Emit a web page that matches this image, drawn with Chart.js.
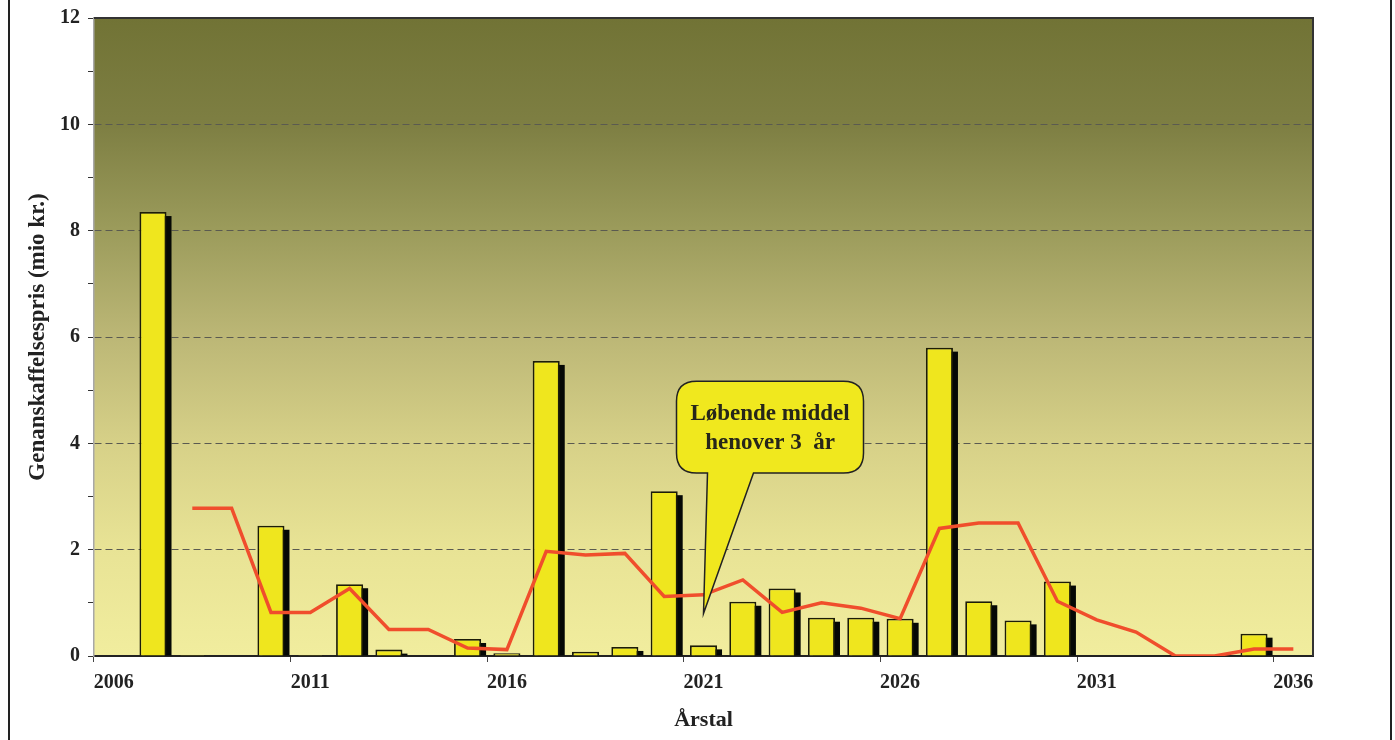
<!DOCTYPE html>
<html>
<head>
<meta charset="utf-8">
<script src="https://cdn.jsdelivr.net/npm/chart.js@4/dist/chart.umd.min.js"></script>
<style>
  html, body { margin: 0; padding: 0; background: #fff; }
  #wrap { position: relative; width: 1395px; height: 740px; }
  #frame { position: absolute; left: 8px; top: 0; width: 1384px; height: 740px;
           border-left: 2px solid #222; border-right: 2px solid #222; box-sizing: border-box; pointer-events: none; }
</style>
</head>
<body>
<div id="wrap">
  <canvas id="c" width="1395" height="740"></canvas>
  <div id="frame"></div>
</div>
<script>
// years 2006..2036
const years = [];
for (let y = 2006; y <= 2036; y++) years.push(String(y));

const costs = [null, 8.35, 0.02, 0.01, 2.45, 0.02, 1.35, 0.12, 0.01, 0.32, 0.05,
  5.55, 0.08, 0.17, 3.1, 0.2, 1.02, 1.27, 0.72, 0.72, 0.7,
  5.8, 1.03, 0.67, 1.4, 0, 0, 0, 0, 0.42, null];

const runningAvg = [null, null, 2.78, 2.78, 0.82, 0.82, 1.27, 0.5, 0.5, 0.15, 0.12,
  1.97, 1.9, 1.93, 1.12, 1.15, 1.43, 0.82, 1.0, 0.9, 0.7,
  2.4, 2.5, 2.5, 1.03, 0.68, 0.45, 0, 0, 0.13, 0.13];

const yTicks = [0, 2, 4, 6, 8, 10, 12];
const calloutLines = ['Løbende middel', 'henover 3  år'];

const FONT = '"Liberation Serif", "Times New Roman", serif';

const bgPlugin = {
  id: 'bg',
  beforeDraw(chart) {
    const { ctx, chartArea: a } = chart;
    const g = ctx.createLinearGradient(0, a.top, 0, a.bottom);
    g.addColorStop(0, '#717335');
    g.addColorStop(0.17, '#7e7f43');
    g.addColorStop(0.33, '#9b9b5b');
    g.addColorStop(0.5, '#bcb776');
    g.addColorStop(0.67, '#d7d188');
    g.addColorStop(0.83, '#e8e395');
    g.addColorStop(1, '#f1ed9e');
    ctx.save();
    ctx.fillStyle = g;
    ctx.fillRect(a.left, a.top, a.right - a.left, a.bottom - a.top);
    ctx.restore();
  },
  beforeDatasetsDraw(chart) {
    // drop shadow behind each bar
    const { ctx } = chart;
    const meta = chart.getDatasetMeta(1);
    ctx.save();
    ctx.fillStyle = '#050805';
    meta.data.forEach(bar => {
      if (bar.skip || isNaN(bar.y)) return;
      const w = bar.width;
      const top = Math.min(bar.y, bar.base) + 4;
      const h = Math.abs(bar.base - bar.y) - 4;
      if (h > 0) ctx.fillRect(bar.x - w / 2 + 5, top, w, h);
    });
    ctx.restore();
  },
  afterDraw(chart) {
    const { ctx, chartArea: a, scales } = chart;
    ctx.save();
    ctx.strokeStyle = '#333';
    ctx.lineWidth = 2;
    ctx.beginPath();
    ctx.moveTo(a.left, a.top);
    ctx.lineTo(a.right, a.top);
    ctx.lineTo(a.right, a.bottom);
    ctx.stroke();

    // speech bubble callout
    const tipX = scales.x.getPixelForValue(15);
    const tipY = scales.y.getPixelForValue(0.8);
    const bx = tipX - 27, by = scales.y.getPixelForValue(5.17);
    const bw = 187, bh = scales.y.getPixelForValue(3.44) - by;
    const r = 20;
    ctx.beginPath();
    ctx.moveTo(bx + r, by);
    ctx.lineTo(bx + bw - r, by);
    ctx.quadraticCurveTo(bx + bw, by, bx + bw, by + r);
    ctx.lineTo(bx + bw, by + bh - r);
    ctx.quadraticCurveTo(bx + bw, by + bh, bx + bw - r, by + bh);
    ctx.lineTo(tipX + 50, by + bh);
    ctx.lineTo(tipX, tipY);
    ctx.lineTo(tipX + 4, by + bh);
    ctx.lineTo(bx + r, by + bh);
    ctx.quadraticCurveTo(bx, by + bh, bx, by + bh - r);
    ctx.lineTo(bx, by + r);
    ctx.quadraticCurveTo(bx, by, bx + r, by);
    ctx.closePath();
    ctx.fillStyle = '#f0e81e';
    ctx.fill();
    ctx.lineWidth = 1.5;
    ctx.strokeStyle = '#222';
    ctx.stroke();
    ctx.fillStyle = '#26261a';
    ctx.font = 'bold 23px ' + FONT;
    ctx.textAlign = 'center';
    ctx.textBaseline = 'middle';
    ctx.fillText(calloutLines[0], bx + bw / 2, by + 33);
    ctx.fillText(calloutLines[1], bx + bw / 2, by + 62);
    ctx.restore();
  }
};

new Chart(document.getElementById('c'), {
  type: 'bar',
  data: {
    labels: years,
    datasets: [
      {
        type: 'line',
        label: 'Løbende middel',
        data: runningAvg,
        borderColor: '#f04e2c',
        borderWidth: 3.5,
        pointRadius: 0,
        tension: 0,
        spanGaps: false,
        order: 1
      },
      {
        label: 'Genanskaffelsespris',
        data: costs,
        backgroundColor: '#efe61e',
        borderColor: '#1c1c08',
        borderWidth: 1.8,
        categoryPercentage: 0.8,
        barPercentage: 0.86,
        order: 2
      }
    ]
  },
  options: {
    responsive: false,
    animation: false,
    layout: { padding: { left: 0, right: 82, top: 18, bottom: 0 } },
    plugins: { legend: { display: false }, tooltip: { enabled: false } },
    scales: {
      x: {
        grid: {
          offset: true,
          drawOnChartArea: false,
          tickLength: 6,
          tickColor: ctx => ctx.index % 5 === 0 ? '#444' : 'transparent'
        },
        border: { color: '#222', width: 2 },
        ticks: {
          autoSkip: false,
          maxRotation: 0,
          padding: 9,
          color: '#222',
          font: { family: FONT, size: 20, weight: 'bold' },
          callback: (v, i) => i % 5 === 0 ? years[i] : ''
        },
        title: {
          display: true,
          text: 'Årstal',
          color: '#222',
          font: { family: FONT, size: 22, weight: 'bold' },
          padding: { top: 0, bottom: 6 }
        },
        afterFit: s => { s.height = 84; s.paddingLeft = 0; s.paddingRight = 0; }
      },
      y: {
        min: 0,
        max: 12,
        ticks: {
          stepSize: 1,
          padding: 8,
          color: '#222',
          font: { family: FONT, size: 20, weight: 'bold' },
          callback: v => yTicks.includes(v) ? v : ''
        },
        grid: {
          tickLength: 6,
          tickColor: '#333',
          lineWidth: 1,
          color: ctx => (ctx.tick && ctx.tick.value > 0 && ctx.tick.value < 12 && ctx.tick.value % 2 === 0) ? '#5a5a50' : 'transparent'
        },
        border: { color: '#a8a8a8', width: 1.5, dash: [7, 4] },
        title: {
          display: true,
          text: 'Genanskaffelsespris (mio kr.)',
          color: '#222',
          font: { family: FONT, size: 23, weight: 'bold' },
          padding: { top: 24, bottom: 0 }
        },
        afterFit: s => { s.width = 94; s.paddingTop = 0; s.paddingBottom = 0; }
      }
    }
  },
  plugins: [bgPlugin]
});
</script>
</body>
</html>
